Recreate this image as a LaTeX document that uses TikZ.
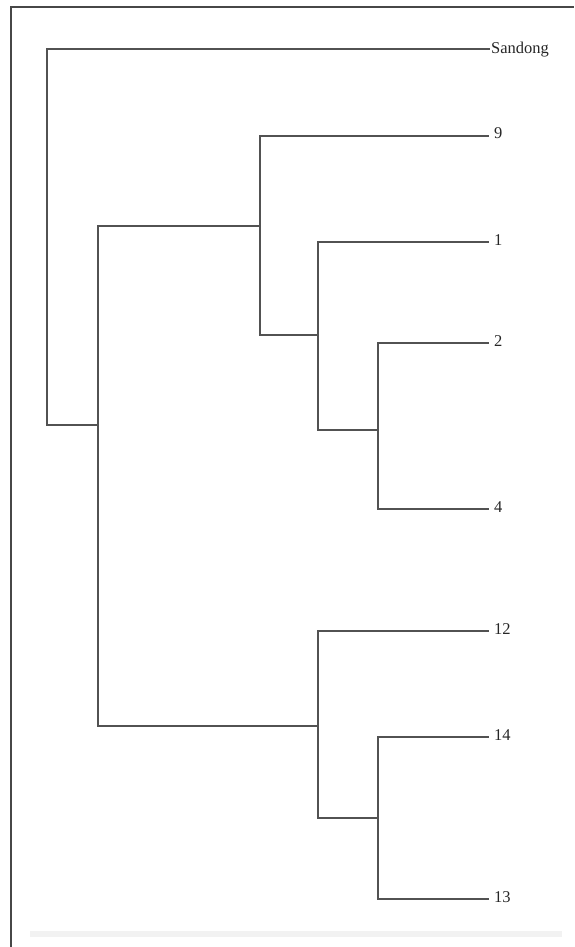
\documentclass[tikz,border=0pt]{standalone}
\usepackage{fontspec}
\setmainfont{Liberation Serif}
\begin{document}
\begin{tikzpicture}[x=1pt,y=-1pt,
  branch/.style={draw=black!68, line width=1.7pt, line cap=rect},
  frame/.style={draw=black!72, line width=1.6pt},
  leaf/.style={anchor=base west, inner sep=0pt, font=\fontsize{16.5}{18}\selectfont, text=black!85}]
\useasboundingbox (0,0) rectangle (574,947);
% frame
\draw[frame] (11,947) -- (11,7) -- (574,7);
\fill[black!5] (30,931) rectangle (562,937);
% internal nodes
\coordinate (r) at (47,425);
\coordinate (A) at (98,425);
\coordinate (B) at (260,226);
\coordinate (D) at (318,335);
\coordinate (E) at (378,430);
\coordinate (C) at (318,726);
\coordinate (F) at (378,818);
% leaf ends
\coordinate (eS) at (489,49);
\coordinate (e9) at (488,136);
\coordinate (e1) at (488,242);
\coordinate (e2) at (488,343);
\coordinate (e4) at (488,509);
\coordinate (e12) at (488,631);
\coordinate (e14) at (488,737);
\coordinate (e13) at (488,899);
% labels
\node[leaf] (lS) at (491,54) {Sandong};
\node[leaf] (l9) at (494,139) {9};
\node[leaf] (l1) at (494,245) {1};
\node[leaf] (l2) at (494,346) {2};
\node[leaf] (l4) at (494,512) {4};
\node[leaf] (l12) at (494,634) {12};
\node[leaf] (l14) at (494,740) {14};
\node[leaf] (l13) at (494,902) {13};
% branches
\draw[branch] (eS) -| (r) -- (A);
\draw[branch] (B) |- (A |- B) |- (C);
\draw[branch] (e9) -| (B) |- (D);
\draw[branch] (e1) -| (D) |- (E);
\draw[branch] (e2) -| (E) |- (e4);
\draw[branch] (e12) -| (C) |- (F);
\draw[branch] (e14) -| (F) |- (e13);
\end{tikzpicture}
\end{document}
